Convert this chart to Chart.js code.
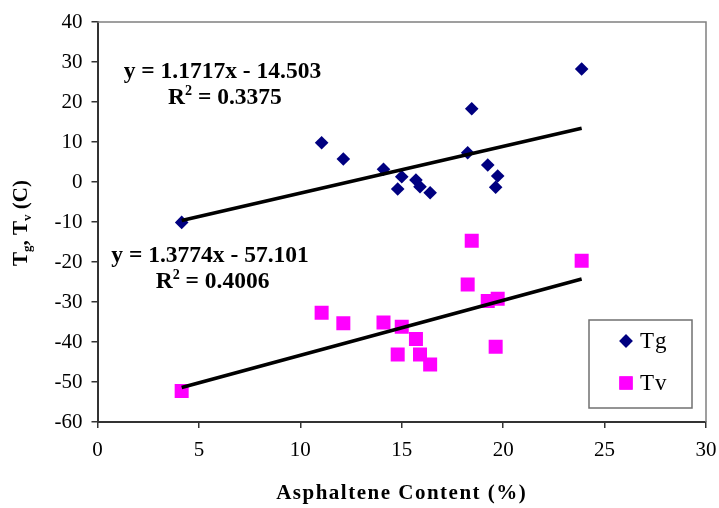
<!DOCTYPE html>
<html>
<head>
<meta charset="utf-8">
<script src="https://cdn.jsdelivr.net/npm/chart.js@4.4.1/dist/chart.umd.min.js"></script>
<style>
  html, body { margin: 0; padding: 0; background: #ffffff; }
  #wrap { width: 719px; height: 508px; }
</style>
</head>
<body>
<div id="wrap"><canvas id="chart" width="719" height="508"></canvas></div>
<script>
// Asphaltene content (%) of each sample
const asphaltene = [4.15, 11.05, 12.12, 14.1, 14.8, 15.0, 15.7, 15.9, 16.4, 18.25, 18.45, 19.24, 19.63, 19.73, 23.87];
// Glass transition temperature Tg (C)
const tgValues = [-10.1, 9.8, 5.75, 3.2, -1.75, 1.3, 0.5, -1.2, -2.7, 7.3, 18.3, 4.25, -1.3, 1.5, 28.25];
// Tv temperature (C)
const tvValues = [-52.25, -32.7, -35.3, -35.1, -43.1, -36.2, -39.25, -43.1, -45.6, -25.6, -14.7, -29.75, -41.2, -29.2, -19.7];
// Linear trend fits as stated on the chart
const tgFit = [1.1717, -14.503];
const tgR2 = '0.3375';
const tvFit = [1.3774, -57.101];
const tvR2 = '0.4006';
// Axis ticks
const xTicks = [0, 5, 10, 15, 20, 25, 30];
const yTicks = [40, 30, 20, 10, 0, -10, -20, -30, -40, -50, -60];

const SERIF = '"Liberation Serif", "Times New Roman", serif';
const xMin = Math.min(...asphaltene);
const xMax = Math.max(...asphaltene);
const fitLine = (fit) => [
  { x: xMin, y: fit[0] * xMin + fit[1] },
  { x: xMax, y: fit[0] * xMax + fit[1] }
];
const points = (ys) => asphaltene.map((x, i) => ({ x, y: ys[i] }));

// Draws a run of text pieces; each piece may be scaled and shifted (sub/superscripts)
function drawRuns(ctx, runs, x, y, align, baseSize, weight, spacing) {
  ctx.letterSpacing = (spacing || 0) + 'px';
  const widths = runs.map(r => {
    ctx.font = `${weight} ${baseSize * (r.scale || 1)}px ${SERIF}`;
    return ctx.measureText(r.t).width;
  });
  const total = widths.reduce((a, b) => a + b, 0);
  let cx = align === 'center' ? x - total / 2 : x;
  runs.forEach((r, i) => {
    ctx.font = `${weight} ${baseSize * (r.scale || 1)}px ${SERIF}`;
    ctx.fillText(r.t, cx, y + (r.dy || 0));
    cx += widths[i];
  });
  ctx.letterSpacing = '0px';
}

const frameAndNotes = {
  id: 'frameAndNotes',
  beforeDatasetsDraw(chart) {
    const { ctx, chartArea: a } = chart;
    ctx.save();
    ctx.strokeStyle = '#808080';
    ctx.lineWidth = 1.5;
    ctx.beginPath();
    ctx.moveTo(a.left, a.top);
    ctx.lineTo(a.right, a.top);
    ctx.lineTo(a.right, a.bottom);
    ctx.stroke();
    ctx.restore();
  },
  afterDraw(chart, args, opts) {
    const { ctx, chartArea: a, scales } = chart;
    const sx = scales.x, sy = scales.y;
    ctx.save();
    ctx.fillStyle = '#000000';
    ctx.textBaseline = 'alphabetic';
    // trend equations
    opts.notes.forEach(n => {
      const px = sx.getPixelForValue(n.at[0]);
      const py = sy.getPixelForValue(n.at[1]);
      drawRuns(ctx, [{ t: n.eq }], px, py, 'center', 23.5, 'bold');
      drawRuns(ctx, [{ t: 'R' }, { t: '2', scale: 0.6, dy: -9 }, { t: ' = ' + n.r2 }],
        px + 2.5, py + 26, 'center', 23.5, 'bold');
    });
    // axis titles
    drawRuns(ctx, [{ t: 'Asphaltene Content (%)' }], (a.left + a.right) / 2, 499, 'center', 21, 'bold', 1.5);
    ctx.save();
    ctx.translate(27, (a.top + a.bottom) / 2 + 1);
    ctx.rotate(-Math.PI / 2);
    drawRuns(ctx, [
      { t: 'T' }, { t: 'g', scale: 0.62, dy: 4 }, { t: ', T' }, { t: 'v', scale: 0.62, dy: 4 }, { t: ' (C)' }
    ], 0, 0, 'center', 21, 'bold');
    ctx.restore();
    // legend box
    const lx = a.right - 117, ly = a.bottom - 102, lw = 103, lh = 88;
    ctx.fillStyle = '#ffffff';
    ctx.fillRect(lx, ly, lw, lh);
    ctx.strokeStyle = '#707070';
    ctx.lineWidth = 1.5;
    ctx.strokeRect(lx, ly, lw, lh);
    chart.data.datasets.filter(d => d.showInLegend).forEach((d, i) => {
      const my = ly + 21 + i * 42;
      const mx = lx + 37;
      ctx.fillStyle = d.backgroundColor;
      Chart.helpers.drawPoint(ctx, { pointStyle: d.pointStyle, radius: d.legendRadius, borderWidth: 0 }, mx, my);
      ctx.fill();
      ctx.fillStyle = '#000000';
      ctx.font = `23px ${SERIF}`;
      ctx.letterSpacing = '1px';
      ctx.textBaseline = 'middle';
      ctx.fillText(d.label, mx + 14, my + 1);
      ctx.letterSpacing = '0px';
    });
    ctx.restore();
  }
};

new Chart(document.getElementById('chart'), {
  type: 'scatter',
  data: {
    datasets: [
      {
        label: 'Tg', data: points(tgValues), showInLegend: true, legendRadius: 6.7,
        pointStyle: 'rectRot', pointRadius: 6.8, backgroundColor: '#000080', borderWidth: 0, order: 2
      },
      {
        label: 'Tv', data: points(tvValues), showInLegend: true, legendRadius: 9.4,
        pointStyle: 'rect', pointRadius: 9.9, backgroundColor: '#ff00ff', borderWidth: 0, order: 3
      },
      {
        label: 'Tg fit', data: fitLine(tgFit), type: 'line', showLine: true, pointRadius: 0,
        borderColor: '#000000', borderWidth: 3.6, order: 1
      },
      {
        label: 'Tv fit', data: fitLine(tvFit), type: 'line', showLine: true, pointRadius: 0,
        borderColor: '#000000', borderWidth: 3.6, order: 1
      }
    ]
  },
  options: {
    responsive: false,
    animation: false,
    devicePixelRatio: 1,
    layout: { padding: { left: 0, right: 13, top: 22, bottom: 0 } },
    plugins: {
      legend: { display: false },
      tooltip: { enabled: false },
      frameAndNotes: {
        notes: [
          { eq: 'y = 1.1717x - 14.503', r2: tgR2, at: [6.16, 26] },
          { eq: 'y = 1.3774x - 57.101', r2: tvR2, at: [5.55, -20] }
        ]
      }
    },
    scales: {
      x: {
        type: 'linear', min: 0, max: 30,
        afterBuildTicks: (s) => { s.ticks = xTicks.map(v => ({ value: v })); },
        afterFit: (s) => { s.height = 86; s.paddingRight = 0; s.paddingLeft = 0; },
        grid: { drawOnChartArea: false, color: '#333333', tickLength: 6, lineWidth: 1.5 },
        border: { color: '#333333', width: 2 },
        ticks: { color: '#000000', font: { family: SERIF, size: 21 }, padding: 10, maxRotation: 0 }
      },
      y: {
        type: 'linear', min: -60, max: 40,
        afterBuildTicks: (s) => { s.ticks = yTicks.map(v => ({ value: v })); },
        afterFit: (s) => { s.width = 97.5; s.paddingTop = 0; s.paddingBottom = 0; },
        grid: { drawOnChartArea: false, color: '#333333', tickLength: 6, lineWidth: 1.5 },
        border: { color: '#333333', width: 2 },
        ticks: { color: '#000000', font: { family: SERIF, size: 21 }, padding: 9 }
      }
    }
  },
  plugins: [frameAndNotes]
});
</script>
</body>
</html>
